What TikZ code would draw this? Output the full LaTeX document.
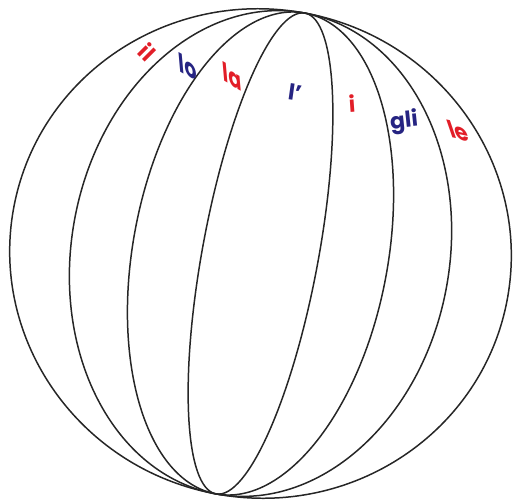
\documentclass[tikz,border=0pt]{standalone}
\usepackage{fontspec}
\setmainfont{Poppins}
\usepackage{tikz}
\definecolor{artred}{RGB}{226,30,40}
\definecolor{artblue}{RGB}{38,36,130}

\begin{document}
\begin{tikzpicture}[
    meridian/.style={draw=black!85, line width=0.85pt},
    article/.style={inner sep=0pt, font=\fontsize{12.5}{15}\selectfont\bfseries}
]
    \useasboundingbox (0,0) rectangle (10.34,9.98);
    % globe and meridians
    \begin{scope}[shift={(5.21,4.91)}, rotate=-10.5]
        \foreach \b in {5.02, 3.78, 2.55, 1.16}
            \draw[meridian] (0,0) ellipse [x radius=\b, y radius=4.89];
    \end{scope}
    % articles
    \node[article, text=artred, rotate=-45] (il) at (2.95,8.94) {il};
    \node[article, text=artblue, rotate=-30, xslant=-0.7] (lo) at (3.76,8.64) {lo};
    \node[article, text=artred, rotate=-30, xslant=-0.7] (la) at (4.64,8.45) {la};
    \node[article, text=artblue, rotate=-8] (lap) at (5.90,8.14) {l'};
    \node[article, text=artred, rotate=4] (i) at (7.04,7.92) {i};
    \node[article, text=artblue, rotate=6] (gli) at (8.08,7.54) {gli};
    \node[article, text=artred, rotate=-12, xslant=-0.6] (le) at (9.16,7.36) {le};
\end{tikzpicture}
\end{document}
